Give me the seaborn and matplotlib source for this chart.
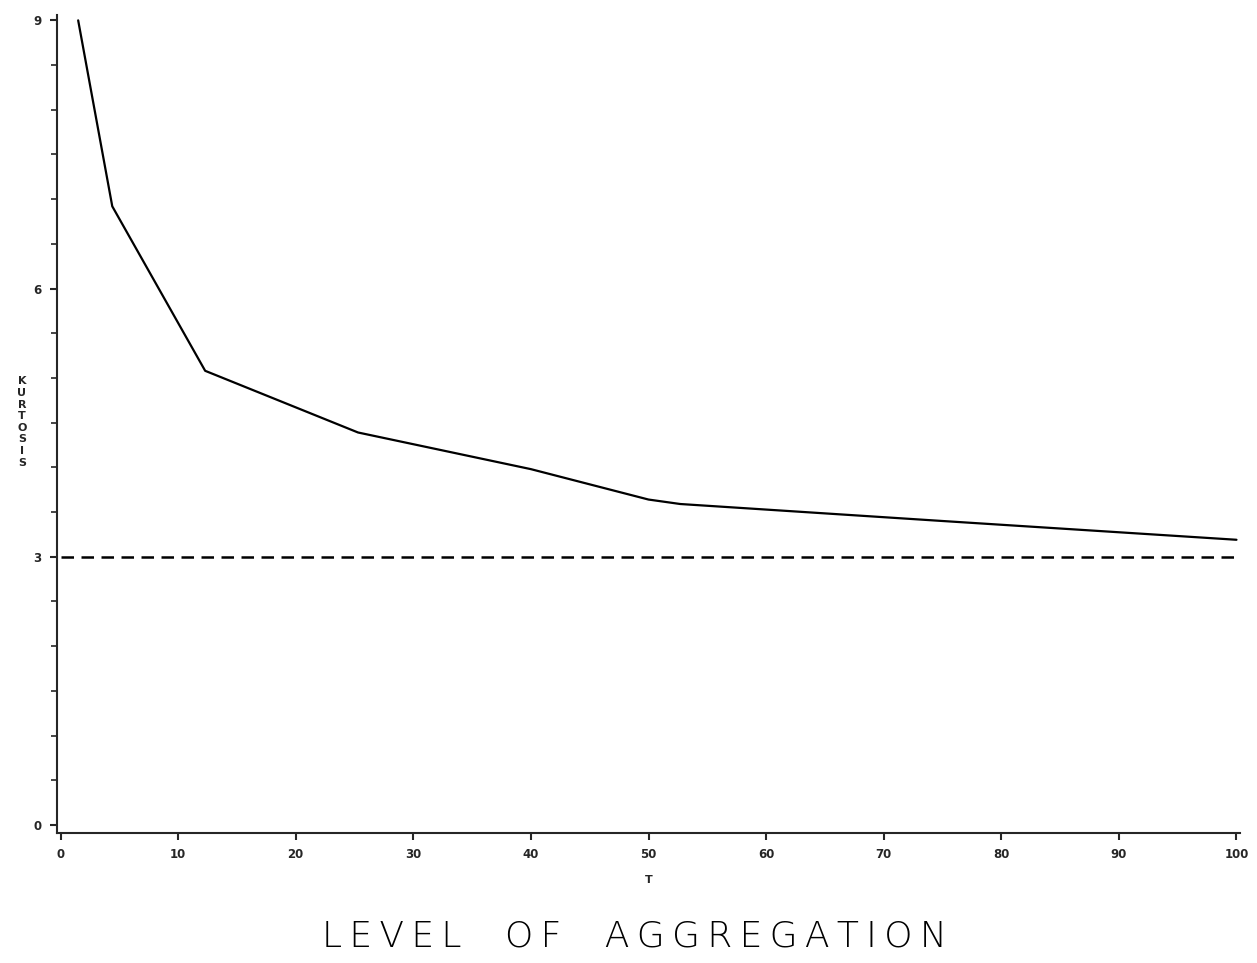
import matplotlib
matplotlib.use("Agg")
import matplotlib.pyplot as plt
import seaborn as sns
import numpy as np
import pandas as pd

# Data
level = [1.5, 4.4, 12.3, 25.3, 40.0, 50.0, 52.7, 75.0, 100.0]
kurtosis = [9.0, 6.92, 5.08, 4.39, 3.98, 3.64, 3.59, 3.40, 3.19]
normal_level = [0, 100]
normal_kurtosis = [3.0, 3.0]
xticks = [0, 10, 20, 30, 40, 50, 60, 70, 80, 90, 100]
yticks = [0, 3, 6, 9]

sns.set_style("ticks")
plt.rcParams['font.family'] = ['DejaVu Sans']

fig = plt.figure(figsize=(12.57, 9.63), dpi=100)
ax = fig.add_axes([57/1257, 1 - 833/963, (1240 - 57)/1257, (833 - 15)/963])

df = pd.DataFrame({"T": level, "KURTOSIS": kurtosis})
sns.lineplot(data=df, x="T", y="KURTOSIS", ax=ax, color="black", linewidth=1.6)
dfn = pd.DataFrame({"T": normal_level, "K": normal_kurtosis})
sns.lineplot(data=dfn, x="T", y="K", ax=ax, color="black", linewidth=1.8,
             linestyle=(0, (5, 3)))

ax.set_xlim(-0.3, 100.3)
ax.set_ylim(-0.09, 9.06)
ax.set_xticks(xticks)
ax.set_yticks(yticks)
ax.set_yticks(np.arange(0, 9.01, 0.5), minor=True)
ax.tick_params(axis="both", which="major", length=5, width=1.5, labelsize=8.5, pad=6)
ax.tick_params(axis="y", which="minor", length=4, width=1.2)
for lab in ax.get_xticklabels() + ax.get_yticklabels():
    lab.set_fontweight("bold")

for side in ["top", "right"]:
    ax.spines[side].set_visible(False)
for side in ["left", "bottom"]:
    ax.spines[side].set_linewidth(1.5)

ax.set_xlabel("T", fontsize=8, fontweight="bold", labelpad=10)
ax.set_ylabel("")
fig.text(22/1257, 1 - 422/963, "\n".join("KURTOSIS"), fontsize=8, fontweight="bold",
         ha="center", va="center", linespacing=1.2)

gap = "\u2003\u2009"
title = "\u2009".join(list("LEVEL")) + gap + "\u2009".join(list("OF")) + \
        gap + "\u2009".join(list("AGGREGATION"))
fig.text(634/1257, 1 - 936/963, title, fontsize=26, fontweight="light",
         ha="center", va="center", color="black")

fig.savefig("out.png", dpi=100)
